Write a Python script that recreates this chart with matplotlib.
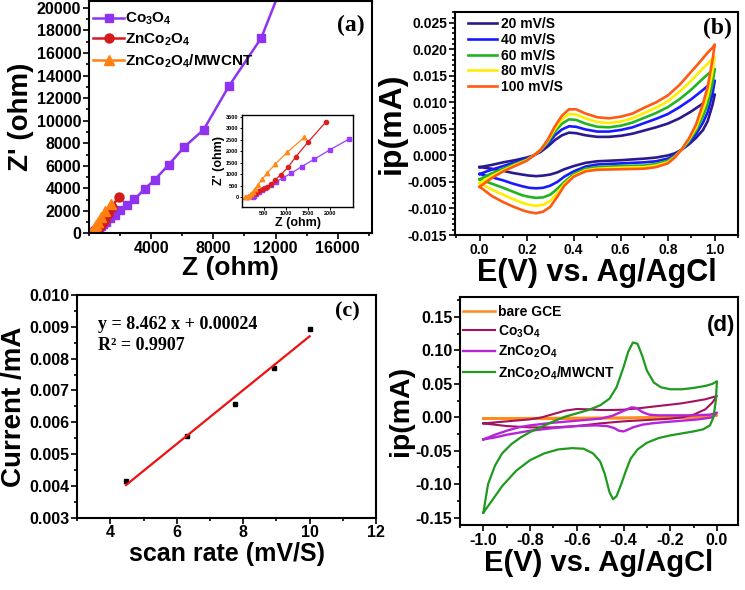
import numpy as np
import matplotlib
matplotlib.use("Agg")
import matplotlib.pyplot as plt
from matplotlib.ticker import MultipleLocator, FixedLocator

plt.rcParams['font.family'] = ['Liberation Sans', 'DejaVu Sans']
plt.rcParams['font.weight'] = 'bold'
plt.rcParams['mathtext.fontset'] = 'custom'
plt.rcParams['mathtext.rm'] = 'Liberation Sans:bold'
plt.rcParams['mathtext.default'] = 'rm'

# ---------------- (a) Nyquist data ----------------
co3o4_z = [261, 276, 328, 388, 464, 539, 659, 779, 930, 1125, 1357, 1641, 2002, 2430,
           2924, 3612, 4236, 5117, 6128, 7375, 8987, 11073, 12900]
co3o4_zp = [0, 58, 145, 232, 333, 405, 535, 666, 839, 1042, 1331, 1650, 2069, 2532,
            3038, 3982, 4779, 6077, 7670, 9204, 13038, 17315, 23700]
znco_z = [148, 200, 261, 328, 403, 479, 569, 659, 764, 892, 1049, 1228, 1499, 1898]
znco_zp = [29, 72, 130, 203, 289, 362, 449, 564, 767, 984, 1302, 1765, 2388, 3256]
mwcnt_z = [73, 118, 163, 208, 261, 313, 373, 463, 584, 764, 1034, 1417]
mwcnt_zp = [0, 14, 72, 145, 232, 362, 550, 781, 1056, 1447, 1953, 2605]

# ---------------- (b) CV at scan rates ----------------
scan_labels = ["20 mV/S", "40 mV/S", "60 mV/S", "80 mV/S", "100 mV/S"]
scan_colors = ["#2a1a8e", "#1a1aff", "#22b422", "#ffee00", "#ff5a12"]
e_fwd = [0.00, 0.05, 0.10, 0.15, 0.20, 0.23, 0.26, 0.29, 0.32, 0.35, 0.38, 0.41, 0.45,
         0.50, 0.55, 0.60, 0.65, 0.70, 0.75, 0.80, 0.85, 0.90, 0.94, 0.97, 0.99, 1.00]
e_rev = [1.00, 0.99, 0.97, 0.95, 0.92, 0.89, 0.86, 0.83, 0.80, 0.75, 0.70, 0.60, 0.50,
         0.45, 0.40, 0.36, 0.33, 0.30, 0.27, 0.24, 0.21, 0.18, 0.14, 0.10, 0.05, 0.00]
i_fwd_20 = [-0.0022, -0.0018, -0.0013, -0.0009, -0.0004, 0.0000, 0.0007, 0.0017, 0.0029,
            0.0038, 0.0043, 0.0042, 0.0038, 0.0035, 0.0035, 0.0037, 0.0041, 0.0047,
            0.0053, 0.0060, 0.0070, 0.0083, 0.0095, 0.0105, 0.0112, 0.0115]
i_rev_20 = [0.0115, 0.0095, 0.0065, 0.0048, 0.0033, 0.0021, 0.0011, 0.0004, 0.0000,
            -0.0004, -0.0006, -0.0009, -0.0011, -0.0014, -0.0020, -0.0026, -0.0032,
            -0.0036, -0.0038, -0.0039, -0.0038, -0.0036, -0.0033, -0.0029, -0.0025, -0.0022]
i_fwd_40 = [-0.0035, -0.0027, -0.0020, -0.0013, -0.0006, 0.0000, 0.0009, 0.0022, 0.0038,
            0.0049, 0.0055, 0.0054, 0.0049, 0.0045, 0.0045, 0.0048, 0.0053, 0.0061,
            0.0069, 0.0078, 0.0091, 0.0106, 0.0120, 0.0131, 0.0138, 0.0141]
i_rev_40 = [0.0141, 0.0115, 0.0082, 0.0062, 0.0040, 0.0024, 0.0011, 0.0001, -0.0006,
            -0.0011, -0.0013, -0.0015, -0.0017, -0.0021, -0.0030, -0.0040, -0.0050,
            -0.0057, -0.0061, -0.0062, -0.0061, -0.0058, -0.0053, -0.0047, -0.0041, -0.0035]
i_fwd_60 = [-0.0045, -0.0034, -0.0025, -0.0016, -0.0008, 0.0000, 0.0010, 0.0025, 0.0045,
            0.0060, 0.0068, 0.0067, 0.0060, 0.0054, 0.0053, 0.0056, 0.0062, 0.0071,
            0.0080, 0.0091, 0.0106, 0.0124, 0.0141, 0.0153, 0.0160, 0.0163]
i_rev_60 = [0.0163, 0.0135, 0.0097, 0.0074, 0.0047, 0.0027, 0.0011, -0.0001, -0.0010,
            -0.0016, -0.0019, -0.0020, -0.0022, -0.0025, -0.0035, -0.0050, -0.0063,
            -0.0074, -0.0079, -0.0080, -0.0078, -0.0075, -0.0068, -0.0061, -0.0053, -0.0045]
i_fwd_80 = [-0.0052, -0.0039, -0.0028, -0.0018, -0.0009, 0.0000, 0.0011, 0.0028, 0.0050,
            0.0068, 0.0078, 0.0077, 0.0070, 0.0063, 0.0061, 0.0064, 0.0070, 0.0080,
            0.0090, 0.0102, 0.0120, 0.0141, 0.0160, 0.0173, 0.0182, 0.0186]
i_rev_80 = [0.0186, 0.0158, 0.0113, 0.0086, 0.0052, 0.0030, 0.0012, -0.0003, -0.0013,
            -0.0019, -0.0022, -0.0023, -0.0025, -0.0028, -0.0038, -0.0054, -0.0071,
            -0.0086, -0.0093, -0.0095, -0.0093, -0.0089, -0.0082, -0.0074, -0.0064, -0.0052]
i_fwd_100 = [-0.0059, -0.0043, -0.0030, -0.0020, -0.0010, 0.0000, 0.0011, 0.0030, 0.0055,
             0.0075, 0.0087, 0.0087, 0.0079, 0.0072, 0.0070, 0.0073, 0.0079, 0.0090,
             0.0100, 0.0113, 0.0133, 0.0158, 0.0178, 0.0194, 0.0203, 0.0209]
i_rev_100 = [0.0209, 0.0180, 0.0130, 0.0098, 0.0058, 0.0032, 0.0012, -0.0004, -0.0015,
             -0.0022, -0.0025, -0.0026, -0.0027, -0.0030, -0.0040, -0.0057, -0.0078,
             -0.0097, -0.0106, -0.0109, -0.0107, -0.0103, -0.0096, -0.0088, -0.0076, -0.0059]

# ---------------- (c) peak current vs sqrt scan rate ----------------
rate = [4.47, 6.32, 7.75, 8.94, 10.0]
peak_i = [0.00416, 0.00556, 0.00657, 0.00772, 0.00892]

# ---------------- (d) CV of electrodes ----------------
gce_e_fwd = [-1.0, -0.8, -0.6, -0.4, -0.2, -0.05, 0.0]
gce_i_fwd = [-0.0015, -0.0012, -0.0008, -0.0004, 0.0002, 0.0010, 0.0030]
gce_e_rev = [0.0, -0.05, -0.2, -0.4, -0.6, -0.8, -1.0]
gce_i_rev = [0.0030, 0.0002, -0.0008, -0.0014, -0.0018, -0.0020, -0.0015]

co_e_fwd = [-1.00, -0.90, -0.80, -0.75, -0.70, -0.65, -0.60, -0.55, -0.50, -0.45, -0.40,
            -0.35, -0.30, -0.25, -0.20, -0.15, -0.10, -0.05, -0.02, 0.00]
co_i_fwd = [-0.009, -0.006, -0.003, 0.000, 0.005, 0.010, 0.0125, 0.012, 0.011, 0.011,
            0.0115, 0.013, 0.015, 0.017, 0.019, 0.021, 0.024, 0.027, 0.030, 0.032]
co_e_rev = [0.00, -0.02, -0.05, -0.10, -0.15, -0.20, -0.30, -0.40, -0.50, -0.60, -0.70,
            -0.80, -0.90, -0.95, -1.00]
co_i_rev = [0.032, 0.022, 0.012, 0.004, 0.000, -0.002, -0.004, -0.006, -0.009, -0.013,
            -0.015, -0.015, -0.013, -0.011, -0.009]

zn_e_fwd = [-1.00, -0.95, -0.90, -0.85, -0.80, -0.70, -0.60, -0.50, -0.45, -0.41, -0.385,
            -0.365, -0.345, -0.32, -0.29, -0.25, -0.20, -0.10, -0.03, 0.00]
zn_i_fwd = [-0.033, -0.026, -0.020, -0.015, -0.012, -0.008, -0.005, -0.002, 0.002, 0.008,
            0.012, 0.015, 0.014, 0.008, 0.004, 0.003, 0.003, 0.003, 0.004, 0.007]
zn_e_rev = [0.00, -0.02, -0.08, -0.15, -0.22, -0.28, -0.32, -0.36, -0.385, -0.40, -0.42,
            -0.44, -0.47, -0.52, -0.60, -0.70, -0.80, -0.90, -0.95, -1.00]
zn_i_rev = [0.007, 0.000, -0.003, -0.005, -0.007, -0.009, -0.011, -0.015, -0.019, -0.021,
            -0.020, -0.016, -0.013, -0.012, -0.013, -0.016, -0.020, -0.026, -0.030, -0.033]

mw_e_fwd = [-1.00, -0.98, -0.95, -0.92, -0.88, -0.84, -0.80, -0.75, -0.70, -0.65, -0.60,
            -0.55, -0.50, -0.46, -0.43, -0.40, -0.38, -0.36, -0.34, -0.32, -0.30, -0.27,
            -0.24, -0.20, -0.15, -0.10, -0.05, -0.02, 0.00]
mw_i_fwd = [-0.1425, -0.100, -0.072, -0.054, -0.040, -0.030, -0.022, -0.014, -0.006, 0.001,
            0.006, 0.011, 0.018, 0.028, 0.045, 0.075, 0.098, 0.112, 0.110, 0.092, 0.070,
            0.052, 0.045, 0.042, 0.042, 0.044, 0.047, 0.050, 0.054]
mw_e_rev = [0.00, -0.005, -0.015, -0.03, -0.06, -0.10, -0.15, -0.20, -0.25, -0.30, -0.34,
            -0.37, -0.39, -0.41, -0.43, -0.445, -0.46, -0.48, -0.50, -0.53, -0.57, -0.62,
            -0.68, -0.74, -0.80, -0.86, -0.92, -0.96, -1.00]
mw_i_rev = [0.054, 0.025, 0.000, -0.012, -0.018, -0.021, -0.024, -0.027, -0.031, -0.038,
            -0.048, -0.062, -0.080, -0.100, -0.118, -0.1225, -0.112, -0.085, -0.066, -0.054,
            -0.047, -0.046, -0.048, -0.054, -0.064, -0.080, -0.103, -0.123, -0.1425]

W, H = 745, 590
fig = plt.figure(figsize=(W / 100, H / 100), dpi=100)


def box(l, t, r, b):
    return [l / W, 1 - b / H, (r - l) / W, (b - t) / H]


def style(ax, size, lw=1.5):
    for s in ax.spines.values():
        s.set_linewidth(lw)
    ax.tick_params(which='both', direction='out', width=1.2, labelsize=size, pad=1.5)
    ax.tick_params(which='major', length=4)
    ax.tick_params(which='minor', length=2.5)
    for lab in ax.get_xticklabels() + ax.get_yticklabels():
        lab.set_fontweight('bold')


# ---- (a)
ax = fig.add_axes(box(89, 0.5, 372, 233.5))
ax.plot(co3o4_z, co3o4_zp, '-s', color='#8f33f0', lw=1.8, ms=6, label='Co$_3$O$_4$')
ax.plot(znco_z, znco_zp, '-o', color='#d41a1a', lw=1.8, ms=6.5, label='ZnCo$_2$O$_4$')
ax.plot(mwcnt_z, mwcnt_zp, '-^', color='#ff8010', lw=1.8, ms=7, label='ZnCo$_2$O$_4$/MWCNT')
ax.set_xlim(0, 18200)
ax.set_ylim(0, 20650)
ax.xaxis.set_major_locator(FixedLocator([4000, 8000, 12000, 16000]))
ax.xaxis.set_minor_locator(MultipleLocator(2000))
ax.yaxis.set_major_locator(MultipleLocator(2000))
ax.yaxis.set_minor_locator(MultipleLocator(1000))
style(ax, 11.5)
ax.set_xlabel('Z (ohm)', fontsize=19, fontweight='bold', labelpad=0)
ax.set_ylabel("Z' (ohm)", fontsize=20, fontweight='bold', labelpad=2)
ax.legend(loc='upper left', bbox_to_anchor=(0.015, 0.955), frameon=False, fontsize=11,
          handlelength=2.0, handletextpad=0.1, labelspacing=0.28, borderpad=0,
          borderaxespad=0)
ax.text(0.925, 0.895, '(a)', transform=ax.transAxes, fontsize=17, fontweight='bold',
        family='Liberation Serif', ha='center', va='center')

# inset
ai = fig.add_axes(box(242.3, 114.7, 353.3, 207))
ai.plot(co3o4_z[:14], co3o4_zp[:14], '-s', color='#9a3cff', lw=0.9, ms=2.8)
ai.plot(znco_z, znco_zp, '-o', color='#dc1e1e', lw=0.9, ms=3)
ai.plot(mwcnt_z, mwcnt_zp, '-^', color='#ff8a1a', lw=0.9, ms=3.2)
ai.set_xlim(20, 2520)
ai.set_ylim(-420, 3580)
ai.xaxis.set_major_locator(FixedLocator([500, 1000, 1500, 2000]))
ai.yaxis.set_major_locator(MultipleLocator(500))
for s in ai.spines.values():
    s.set_linewidth(1.0)
ai.tick_params(direction='out', length=1.8, width=0.7, labelsize=4, pad=1)
for lab in ai.get_xticklabels() + ai.get_yticklabels():
    lab.set_fontweight('bold')
ai.set_xlabel('Z (ohm)', fontsize=9, fontweight='bold', labelpad=1)
ai.set_ylabel("Z' (ohm)", fontsize=9, fontweight='bold', labelpad=1)

# ---- (b)
ax = fig.add_axes(box(455, 11.7, 738.3, 235))
fwd = [i_fwd_20, i_fwd_40, i_fwd_60, i_fwd_80, i_fwd_100]
rev = [i_rev_20, i_rev_40, i_rev_60, i_rev_80, i_rev_100]
for f, r, c, lab in zip(fwd, rev, scan_colors, scan_labels):
    ax.plot(e_fwd + e_rev, f + r, color=c, lw=1.9, label=lab)
ax.set_xlim(-0.105, 1.1)
ax.set_ylim(-0.015, 0.0271)
ax.xaxis.set_major_locator(MultipleLocator(0.2))
ax.xaxis.set_minor_locator(MultipleLocator(0.1))
ax.yaxis.set_major_locator(MultipleLocator(0.005))
ax.yaxis.set_minor_locator(MultipleLocator(0.001))
ax.yaxis.set_major_formatter(matplotlib.ticker.FormatStrFormatter('%.3f'))
ax.xaxis.set_major_formatter(matplotlib.ticker.FormatStrFormatter('%.1f'))
style(ax, 10)
ax.set_xlabel('E(V) vs. Ag/AgCl', fontsize=22, fontweight='bold', labelpad=1)
ax.set_ylabel('ip(mA)', fontsize=23, fontweight='bold', labelpad=1)
ax.legend(loc='upper left', bbox_to_anchor=(0.045, 0.975), frameon=False, fontsize=10,
          handlelength=2.1, handletextpad=0.3, labelspacing=0.12, borderpad=0,
          borderaxespad=0)
ax.text(0.925, 0.925, '(b)', transform=ax.transAxes, fontsize=17, fontweight='bold',
        family='Liberation Serif', ha='center', va='center')

# ---- (c)
ax = fig.add_axes(box(77.3, 295, 376, 517.7))
ax.plot(rate, peak_i, 's', color='black', ms=3.5)
coef = np.polyfit(rate, peak_i, 1)
fit_x = np.array([rate[0], rate[-1]])
ax.plot(fit_x, np.polyval(coef, fit_x), color='#ee1111', lw=1.6)
ax.set_xlim(3, 12)
ax.set_ylim(0.003, 0.010)
ax.xaxis.set_major_locator(MultipleLocator(2))
ax.xaxis.set_minor_locator(MultipleLocator(1))
ax.yaxis.set_major_locator(MultipleLocator(0.001))
ax.yaxis.set_minor_locator(MultipleLocator(0.0005))
ax.yaxis.set_major_formatter(matplotlib.ticker.FormatStrFormatter('%.3f'))
style(ax, 11.5)
ax.set_xlabel('scan rate (mV/S)', fontsize=18, fontweight='bold', labelpad=1)
ax.set_ylabel('Current /mA', fontsize=20, fontweight='bold', labelpad=2)
ax.text(0.07, 0.82, 'y = 8.462 x + 0.00024\nR\u00b2 = 0.9907', transform=ax.transAxes,
        fontsize=13, fontweight='bold', family='Liberation Serif', ha='left', va='center',
        linespacing=1.25)
ax.text(0.905, 0.925, '(c)', transform=ax.transAxes, fontsize=16, fontweight='bold',
        family='Liberation Serif', ha='center', va='center')

# ---- (d)
ax = fig.add_axes(box(460, 297, 738, 525))
ax.plot(gce_e_fwd + gce_e_rev, gce_i_fwd + gce_i_rev, color='#ff8c1a', lw=1.8, label='bare GCE')
ax.plot(co_e_fwd + co_e_rev, co_i_fwd + co_i_rev, color='#a3125e', lw=1.5, label='Co$_3$O$_4$')
ax.plot(zn_e_fwd + zn_e_rev, zn_i_fwd + zn_i_rev, color='#b524d6', lw=1.7, label='ZnCo$_2$O$_4$')
ax.plot(mw_e_fwd + mw_e_rev, mw_i_fwd + mw_i_rev, color='#1f9a1f', lw=1.6,
        label='ZnCo$_2$O$_4$/MWCNT')
ax.set_xlim(-1.1, 0.09)
ax.set_ylim(-0.161, 0.180)
ax.xaxis.set_major_locator(MultipleLocator(0.2))
ax.xaxis.set_minor_locator(MultipleLocator(0.1))
ax.yaxis.set_major_locator(MultipleLocator(0.05))
ax.yaxis.set_minor_locator(MultipleLocator(0.025))
ax.yaxis.set_major_formatter(matplotlib.ticker.FormatStrFormatter('%.2f'))
ax.xaxis.set_major_formatter(matplotlib.ticker.FormatStrFormatter('%.1f'))
style(ax, 11.5)
ax.set_xlabel('E(V) vs. Ag/AgCl', fontsize=21, fontweight='bold', labelpad=1)
ax.set_ylabel('ip(mA)', fontsize=20.5, fontweight='bold', labelpad=1)
ax.legend(loc='upper left', bbox_to_anchor=(0.01, 0.965), frameon=False, fontsize=10,
          handlelength=2.3, handletextpad=0.25, labelspacing=0.3, borderpad=0,
          borderaxespad=0)
ax.text(0.94, 0.875, '(d)', transform=ax.transAxes, fontsize=16, fontweight='bold',
        ha='center', va='center')

fig.savefig('out.png', dpi=100)
